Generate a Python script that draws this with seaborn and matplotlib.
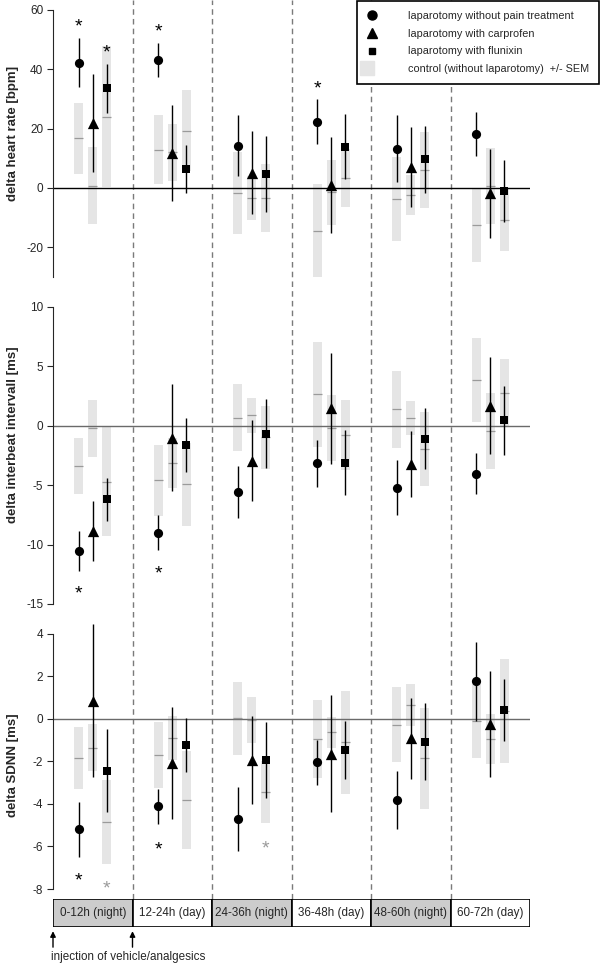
import matplotlib
import matplotlib.pyplot as plt
import numpy as np
import pandas as pd
import seaborn as sns
from matplotlib.legend_handler import HandlerTuple
from matplotlib.lines import Line2D


matplotlib.use("Agg")

PERIODS = ["0-12h (night)", "12-24h (day)", "24-36h (night)",
           "36-48h (day)", "48-60h (night)", "60-72h (day)"]
NIGHT = [True, False, True, False, True, False]
TREATMENTS = ["laparotomy without pain treatment", "laparotomy with carprofen",
              "laparotomy with flunixin"]
CONTROL_LABEL = "control (without laparotomy)  +/- SEM"
INJECTION_LABEL = "injection of vehicle/analgesics"
INJECTION_PERIODS = [0, 1]

# delta heart rate [bpm]
HR_NOPAIN = [42.3, 43.1, 14.3, 22.4, 13.3, 18.2]
HR_NOPAIN_SEM = [8.4, 5.8, 10.4, 7.5, 11.2, 7.5]
HR_CARP = [22.0, 11.8, 5.1, 0.9, 7.0, -1.7]
HR_CARP_SEM = [16.5, 16.3, 14.0, 16.2, 13.4, 15.0]
HR_FLUN = [33.6, 6.4, 4.6, 13.9, 9.7, -0.9]
HR_FLUN_SEM = [8.2, 8.2, 12.8, 10.9, 11.3, 10.5]
HR_CTRL_NOPAIN = [16.7, 12.9, -1.7, -14.4, -3.7, -12.6]
HR_CTRL_NOPAIN_SEM = [12.1, 11.6, 13.8, 15.8, 14.2, 12.4]
HR_CTRL_CARP = [0.8, 12.0, -3.4, -1.5, -2.3, 0.8]
HR_CTRL_CARP_SEM = [12.9, 9.6, 7.4, 11.1, 6.8, 12.8]
HR_CTRL_FLUN = [24.0, 19.3, -3.4, 3.4, 6.2, -10.7]
HR_CTRL_FLUN_SEM = [23.7, 13.6, 11.5, 9.9, 12.8, 10.4]
# (period, treatment, y, colour)
HR_STARS = [(0, 0, 56.4, "black"), (0, 2, 47.6, "black"), (1, 0, 54.5, "black"),
            (3, 0, 35.5, "black")]

# delta interbeat intervall [ms]
IBI_NOPAIN = [-10.56, -9.0, -5.56, -3.17, -5.2, -4.02]
IBI_NOPAIN_SEM = [1.7, 1.45, 2.2, 2.0, 2.3, 1.7]
IBI_CARP = [-8.85, -1.0, -2.95, 1.46, -3.23, 1.69]
IBI_CARP_SEM = [2.5, 4.5, 3.4, 4.7, 2.8, 4.1]
IBI_FLUN = [-6.18, -1.63, -0.65, -3.09, -1.07, 0.45]
IBI_FLUN_SEM = [1.8, 2.3, 2.9, 2.75, 2.55, 2.9]
IBI_CTRL_NOPAIN = [-3.4, -4.6, 0.68, 2.65, 1.4, 3.88]
IBI_CTRL_NOPAIN_SEM = [2.35, 3.0, 2.8, 4.4, 3.24, 3.54]
IBI_CTRL_CARP = [-0.2, -3.1, 0.88, -0.2, 0.65, -0.4]
IBI_CTRL_CARP_SEM = [2.4, 2.1, 1.48, 2.78, 1.44, 3.2]
IBI_CTRL_FLUN = [-4.7, -4.94, -0.95, -0.76, -1.94, 2.77]
IBI_CTRL_FLUN_SEM = [4.6, 3.5, 2.65, 2.92, 3.12, 2.85]
IBI_STARS = [(0, 0, -13.65, "black"), (1, 0, -12.0, "black")]

# delta SDNN [ms]
SDNN_NOPAIN = [-5.19, -4.12, -4.72, -2.04, -3.81, 1.77]
SDNN_NOPAIN_SEM = [1.3, 0.82, 1.5, 1.05, 1.37, 1.86]
SDNN_CARP = [0.86, -2.08, -1.93, -1.65, -0.91, -0.25]
SDNN_CARP_SEM = [3.6, 2.65, 2.07, 2.75, 1.9, 2.5]
SDNN_FLUN = [-2.45, -1.24, -1.93, -1.46, -1.07, 0.42]
SDNN_FLUN_SEM = [1.95, 1.28, 1.8, 1.37, 1.8, 1.47]
SDNN_CTRL_NOPAIN = [-1.85, -1.72, 0.02, -0.94, -0.27, -0.1]
SDNN_CTRL_NOPAIN_SEM = [1.46, 1.55, 1.7, 1.82, 1.78, 1.75]
SDNN_CTRL_CARP = [-1.35, -0.89, -0.05, -0.63, 0.64, -0.93]
SDNN_CTRL_CARP_SEM = [1.12, 1.03, 1.1, 0.72, 0.98, 1.18]
SDNN_CTRL_FLUN = [-4.85, -3.81, -3.45, -1.1, -1.85, 0.36]
SDNN_CTRL_FLUN_SEM = [1.98, 2.32, 1.45, 2.43, 2.38, 2.45]
SDNN_STARS = [(0, 0, -7.34, "black"), (0, 2, -7.73, "#9a9a9a"),
              (1, 0, -5.89, "black"), (2, 2, -5.85, "#9a9a9a")]

OFFSETS = [-0.175, 0.0, 0.175]
MARKERS = ["o", "^", "s"]
SIZES = [44, 66, 28]
CTRL_WIDTH = 0.115
CTRL_FILL = "#e5e5e5"
CTRL_LINE = "#9a9a9a"
NIGHT_FILL = "#cccccc"

W, H = 600, 965
LEFT = 53 / W
WIDTH = 477 / W


def panel_frame(treat, treat_sem, ctrl, ctrl_sem):
    rows = []
    for t, label in enumerate(TREATMENTS):
        for p in range(len(PERIODS)):
            rows.append({
                "treatment": label,
                "x": p + 0.5 + OFFSETS[t],
                "mean": treat[t][p],
                "sem": treat_sem[t][p],
                "ctrl": ctrl[t][p],
                "ctrl_sem": ctrl_sem[t][p],
            })
    return pd.DataFrame(rows)


def draw_panel(ax, df, stars, ylim, bounds, ticks, ylabel, label_y, zero_color):
    ax.patch.set_visible(False)
    ax.bar(df["x"], 2 * df["ctrl_sem"], bottom=df["ctrl"] - df["ctrl_sem"],
           width=CTRL_WIDTH, color=CTRL_FILL, linewidth=0, zorder=1)
    ax.axhline(0, color=zero_color, lw=1.0, zorder=2)
    ax.hlines(df["ctrl"], df["x"] - CTRL_WIDTH / 2, df["x"] + CTRL_WIDTH / 2,
              color=CTRL_LINE, lw=0.9, zorder=2)
    ax.errorbar(df["x"], df["mean"], yerr=df["sem"], fmt="none", ecolor="black",
                elinewidth=1.0, capsize=0, zorder=3)
    for t, label in enumerate(TREATMENTS):
        sns.scatterplot(data=df[df["treatment"] == label], x="x", y="mean",
                        marker=MARKERS[t], s=SIZES[t], color="black",
                        linewidth=0, ax=ax, zorder=4, legend=False)
    for p, t, y, colour in stars:
        ax.annotate("*", xy=(p + 0.5 + OFFSETS[t], y), xytext=(0, -7.5),
                    textcoords="offset points", ha="center", va="baseline",
                    fontsize=14, color=colour)

    ax.set_xlim(0, len(PERIODS))
    ax.set_ylim(*ylim)
    ax.set_xticks([])
    ax.set_yticks(ticks)
    ax.tick_params(axis="y", labelsize=8.5, length=4, width=0.8, pad=3)
    sns.despine(ax=ax, bottom=True)
    ax.spines["left"].set_bounds(*bounds)
    ax.spines["left"].set_linewidth(0.8)
    ax.set_xlabel("")
    ax.set_ylabel(ylabel, fontsize=9.5, fontweight="bold")
    ax.yaxis.set_label_coords(-0.072, label_y)


sns.set_style("ticks")
plt.rcParams["font.family"] = ["Liberation Sans", "DejaVu Sans"]
plt.rcParams["axes.unicode_minus"] = False

fig = plt.figure(figsize=(W / 100, H / 100), dpi=100)

# dashed period separators running through all panels
bg = fig.add_axes([LEFT, 1 - 899 / H, WIDTH, 899 / H], zorder=0)
bg.set_xlim(0, len(PERIODS))
for p in range(1, len(PERIODS)):
    bg.axvline(p, color="#7a7a7a", lw=1.0, linestyle=(0, (4, 3)))
bg.axis("off")

ax_hr = fig.add_axes([LEFT, 1 - 277 / H, WIDTH, 267 / H], zorder=1)
ax_ibi = fig.add_axes([LEFT, 1 - 604 / H, WIDTH, 297 / H], zorder=1)
ax_sd = fig.add_axes([LEFT, 1 - 889 / H, WIDTH, 268 / H], zorder=1)

hr_df = panel_frame([HR_NOPAIN, HR_CARP, HR_FLUN],
                    [HR_NOPAIN_SEM, HR_CARP_SEM, HR_FLUN_SEM],
                    [HR_CTRL_NOPAIN, HR_CTRL_CARP, HR_CTRL_FLUN],
                    [HR_CTRL_NOPAIN_SEM, HR_CTRL_CARP_SEM, HR_CTRL_FLUN_SEM])
ibi_df = panel_frame([IBI_NOPAIN, IBI_CARP, IBI_FLUN],
                     [IBI_NOPAIN_SEM, IBI_CARP_SEM, IBI_FLUN_SEM],
                     [IBI_CTRL_NOPAIN, IBI_CTRL_CARP, IBI_CTRL_FLUN],
                     [IBI_CTRL_NOPAIN_SEM, IBI_CTRL_CARP_SEM, IBI_CTRL_FLUN_SEM])
sd_df = panel_frame([SDNN_NOPAIN, SDNN_CARP, SDNN_FLUN],
                    [SDNN_NOPAIN_SEM, SDNN_CARP_SEM, SDNN_FLUN_SEM],
                    [SDNN_CTRL_NOPAIN, SDNN_CTRL_CARP, SDNN_CTRL_FLUN],
                    [SDNN_CTRL_NOPAIN_SEM, SDNN_CTRL_CARP_SEM, SDNN_CTRL_FLUN_SEM])

draw_panel(ax_hr, hr_df, HR_STARS, (-30, 60), (-30, 60), [-20, 0, 20, 40, 60],
           "delta heart rate [bpm]", 0.536, "black")
draw_panel(ax_ibi, ibi_df, IBI_STARS, (-15, 10), (-15, 10), [-15, -10, -5, 0, 5, 10],
           "delta interbeat intervall [ms]", 0.569, "#6a6a6a")
draw_panel(ax_sd, sd_df, SDNN_STARS, (-8, 4.6), (-8, 4), [-8, -6, -4, -2, 0, 2, 4],
           "delta SDNN [ms]", 0.463, "#6a6a6a")

# time bar with day / night periods
tax = fig.add_axes([LEFT, 1 - 927 / H, WIDTH, 28 / H], zorder=2)
centers = np.arange(len(PERIODS)) + 0.5
tax.bar(centers, 1, width=1, bottom=0,
        color=[NIGHT_FILL if n else "white" for n in NIGHT],
        edgecolor="black", linewidth=1.2)
for c, label in zip(centers, PERIODS):
    tax.text(c, 0.5, label, ha="center", va="center", fontsize=8.4)
tax.set_xlim(0, len(PERIODS))
tax.set_ylim(0, 1)
tax.axis("off")
for p in INJECTION_PERIODS:
    tax.annotate("", xy=(p, -0.15), xytext=(p, -0.72),
                 xycoords=("data", "axes fraction"),
                 textcoords=("data", "axes fraction"),
                 arrowprops=dict(arrowstyle="-|>", color="black", lw=1.0,
                                 mutation_scale=8, shrinkA=0, shrinkB=0))
tax.text(-0.02, -1.07, INJECTION_LABEL, transform=tax.get_xaxis_transform(),
         ha="left", va="center", fontsize=8.4)

handles = [Line2D([], [], marker=m, color="black", linestyle="none",
                  markersize=ms) for m, ms in zip(MARKERS, [6.5, 7.5, 5])]
ctrl_handle = (Line2D([], [], marker="s", markersize=10, color=CTRL_FILL,
                      linestyle="none"),
               Line2D([], [], color=CTRL_LINE, lw=0.9))
leg = fig.legend(handles + [ctrl_handle], TREATMENTS + [CONTROL_LABEL],
                 loc="upper right", bbox_to_anchor=(0.999, 0.999),
                 handler_map={tuple: HandlerTuple(ndivide=None)},
                 frameon=True, fancybox=False, framealpha=1, edgecolor="black",
                 fontsize=7.8, handlelength=0.9, handletextpad=2.9,
                 borderpad=0.95, labelspacing=0.7, borderaxespad=0)
leg.get_frame().set_linewidth(1.2)

fig.savefig("out.png", dpi=100)
